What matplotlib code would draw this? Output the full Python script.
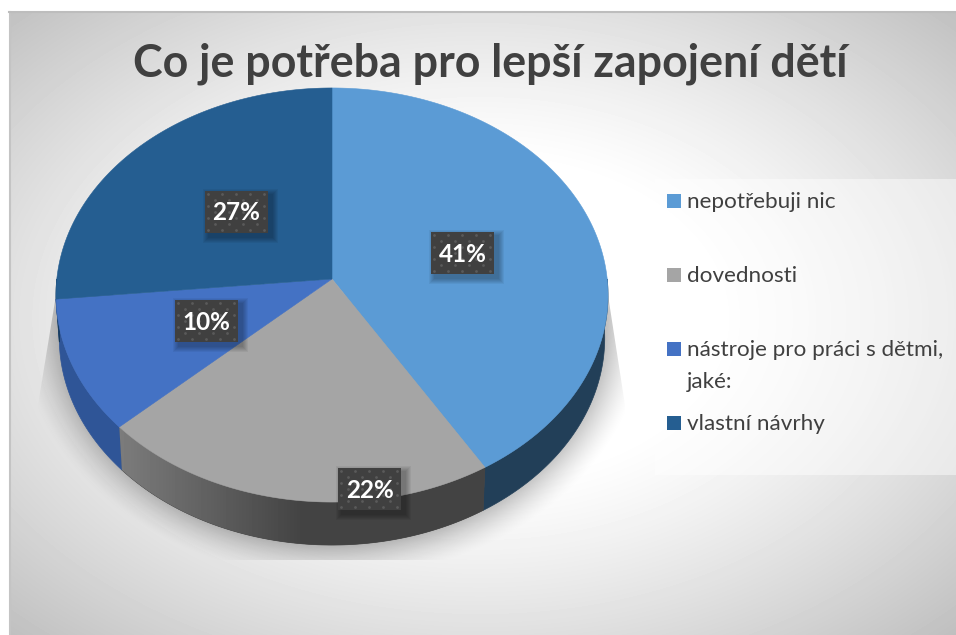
import numpy as np
import matplotlib
matplotlib.use("Agg")
import matplotlib.pyplot as plt
from matplotlib.patches import Polygon, Rectangle

title = "Co je potřeba pro lepší zapojení dětí"
categories = ["nepotřebuji nic", "dovednosti", "nástroje pro práci s dětmi,\njaké:", "vlastní návrhy"]
# estimated from the slice edges, the labels show them rounded
values = [41.4, 21.8, 10.4, 26.6]
top_colors = ["#5b9bd5", "#a5a5a5", "#4472c4", "#255e91"]
side_colors = ["#223f58", "#444444", "#2f5597", "#163a5a"]
label_pos = [(462.5, 253), (370, 489), (206.5, 321), (236.5, 212)]
legend_y = [201, 275, 349, 423]

FONT = ["Lato", "DejaVu Sans"]
W, H = 956, 635
CX, CY = 332, 279
RX, RY, PERSP = 275.2, 205.8, 0.0773
DEPTH = 43


def rim(a0, a1, n=200):
    # clockwise from 12 o'clock, circle pushed through a small perspective
    t = np.radians(np.linspace(a0, a1, n))
    u, v = np.sin(t), np.cos(t)
    w = 1 + PERSP * v
    return CX + RX * u / w, CY - RY * v / w


fig = plt.figure(figsize=(W / 100, H / 100), dpi=100)
ax = fig.add_axes([0, 0, 1, 1])
ax.set_xlim(0, W)
ax.set_ylim(H, 0)
ax.axis("off")

# chart background, white in the middle and grey towards the corners
yy, xx = np.mgrid[0:H, 0:W]
dist = np.hypot((xx - 480) / 470, (yy - 318) / 310)
bg = 1.0 - 0.24 * (np.clip(dist - 0.5, 0, None) / 0.9) ** 1.2
frame = Rectangle((9, 11), W - 9, H - 11, fc="none", ec="none")
ax.add_patch(frame)
im = ax.imshow(bg, cmap="gray", vmin=0, vmax=1, extent=(0, W, H, 0), aspect="auto", zorder=1)
im.set_clip_path(frame)
ax.plot([10, 10], [H, 12], color="#c4c4c4", lw=1.5, zorder=2)
ax.plot([9, W], [12, 12], color="#bdbdbd", lw=1.5, zorder=2)

# soft shadow under the pie, cut off by a trapezoid
sd = np.hypot((xx - CX) / 292, (yy - 322) / 238)
alpha = np.clip((1.08 - sd) / 0.16, 0, 1) ** 1.5 * 0.30
rgba = np.zeros((H, W, 4))
rgba[..., 3] = alpha
sh = ax.imshow(rgba, extent=(0, W, H, 0), aspect="auto", zorder=3)
trap = Polygon([(56, 295), (38, 405), (38, 560), (625, 560), (625, 405), (608, 295)],
               closed=True, fc="none", ec="none")
ax.add_patch(trap)
sh.set_clip_path(trap)

angles = np.concatenate([[0], np.cumsum(values) / np.sum(values) * 360])

# sides first, only the front half of the rim shows one
for i, col in enumerate(side_colors):
    a0, a1 = max(angles[i], 90), min(angles[i + 1], 270)
    if a1 <= a0:
        continue
    x, y = rim(a0, a1)
    xb = CX + (x - CX) * 0.988
    yb = y + DEPTH
    poly = Polygon(np.column_stack([np.r_[x, xb[::-1]], np.r_[y, yb[::-1]]]),
                   closed=True, fc=col, ec=col, lw=0.5, zorder=4)
    ax.add_patch(poly)
    if i == 1:
        # grey side gets lighter towards the left
        g = np.clip((300 - xx) / 180, 0, 1) * 0.22 + 0.265
        gi = ax.imshow(g, cmap="gray", vmin=0, vmax=1, extent=(0, W, H, 0), aspect="auto", zorder=4.5)
        gi.set_clip_path(poly)

for i, col in enumerate(top_colors):
    x, y = rim(angles[i], angles[i + 1])
    ax.fill(np.r_[CX, x], np.r_[CY, y], fc=col, ec=col, lw=0.4, zorder=5)

# percentage labels in dark dotted boxes
for val, (lx, ly) in zip(values, label_pos):
    x0, y0 = lx - 31.5, ly - 21
    for k in range(6, 0, -1):
        ax.add_patch(Rectangle((x0 + 4 - k, y0 + 4 - k), 63 + 2 * k, 42 + 2 * k,
                               fc="black", ec="none", alpha=0.05, zorder=6))
    ax.add_patch(Rectangle((x0, y0), 63, 42, fc="#404040", ec="none", zorder=7))
    dx, dy = np.meshgrid(np.arange(x0 + 3, x0 + 62, 7), np.arange(y0 + 3, y0 + 42, 6))
    ax.scatter(dx[::2, ::2].ravel(), dy[::2, ::2].ravel(), s=4, c="#5a5a5a", lw=0, zorder=8)
    ax.scatter(dx[1::2, 1::2].ravel(), dy[1::2, 1::2].ravel(), s=4, c="#5a5a5a", lw=0, zorder=8)
    ax.text(lx, ly + 1, f"{val:.0f}%", color="white", fontsize=17.5, fontweight="bold",
            ha="center", va="center", family=FONT, zorder=9)

ax.text(490, 64, title, color="#404040", fontsize=32.2, fontweight="bold",
        ha="center", va="center", family=FONT, zorder=9)

# legend panel
ax.add_patch(Rectangle((655, 179), 301, 296, fc="white", ec="none", alpha=0.45, zorder=3))
for name, col, ly in zip(categories, top_colors, legend_y):
    ax.add_patch(Rectangle((667, ly - 7), 14, 14, fc=col, ec="none", zorder=6))
    ax.text(687, ly - 9, name, color="#404040", fontsize=16.2, ha="left", va="top",
            family=FONT, linespacing=1.75, zorder=9)

fig.savefig("out.png", dpi=100, facecolor="white")
